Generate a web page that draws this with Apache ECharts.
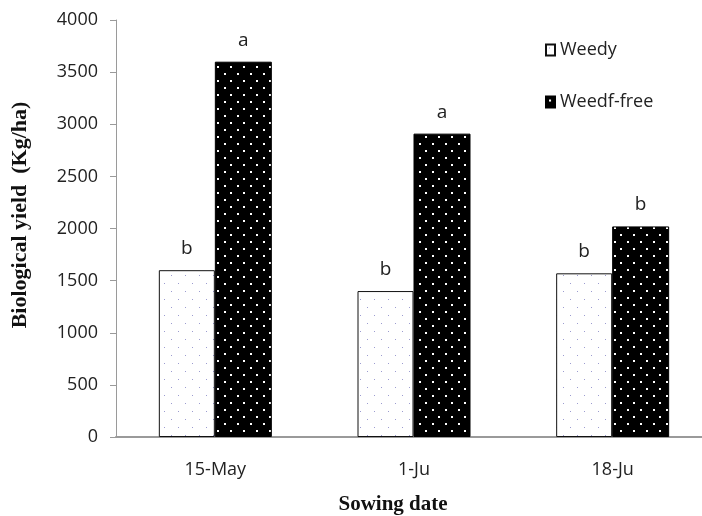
<!DOCTYPE html>
<html>
<head>
<meta charset="utf-8">
<script src="https://cdn.jsdelivr.net/npm/echarts@6/dist/echarts.min.js"></script>
<style>
  html, body { margin: 0; padding: 0; background: #fff; overflow: hidden; }
  /* the plot area runs a few pixels past the right edge of the window */
  #chart { width: 712px; height: 516px; }
</style>
</head>
<body>
<div id="chart"></div>
<script>
// Sowing dates on the category axis
const sowingDates = ['15-May', '1-Ju', '18-Ju'];
// Biological yield (Kg/ha)
const weedy = [1600, 1400, 1570];
const weedFree = [3600, 2910, 2020];
// Mean-separation letters printed above each bar
const weedyLetters = ['b', 'b', 'b'];
const weedFreeLetters = ['a', 'a', 'b'];
// Value axis ticks
const yTicks = [0, 500, 1000, 1500, 2000, 2500, 3000, 3500, 4000];

// Dotted fill patterns for the two treatments
function dotPattern(w, h, bg, dot, dots, size) {
  const c = document.createElement('canvas');
  c.width = w; c.height = h;
  const ctx = c.getContext('2d');
  ctx.fillStyle = bg;
  ctx.fillRect(0, 0, w, h);
  ctx.fillStyle = dot;
  dots.forEach(p => ctx.fillRect(p[0], p[1], size, size));
  return c;
}
const lightDots = dotPattern(14, 16, '#ffffff', '#9c9cd0', [[3, 3], [10, 11]], 1);
const darkDots = dotPattern(13, 14, '#000000', '#ffffff', [[3, 3], [9, 10]], 2);

const chart = echarts.init(document.getElementById('chart'), null, { renderer: 'canvas' });

const labelFont = { fontFamily: 'Open Sans', fontSize: 19, color: '#222' };

chart.setOption({
  animation: false,
  grid: { left: 116, right: 0, top: 20, bottom: 79, containLabel: false },
  legend: {
    orient: 'vertical',
    left: 540,
    top: 36,
    icon: 'rect',
    itemWidth: 9,
    itemHeight: 11,
    itemGap: 34,
    textStyle: { fontFamily: 'Open Sans', fontSize: 18, color: '#222' },
    data: ['Weedy', 'Weedf-free']
  },
  xAxis: {
    type: 'category',
    data: sowingDates,
    axisLine: { lineStyle: { color: '#9a9a9a', width: 2 } },
    axisTick: { show: false },
    axisLabel: { margin: 24, fontFamily: 'Open Sans', fontSize: 18, color: '#222' }
  },
  yAxis: {
    type: 'value',
    min: yTicks[0],
    max: yTicks[yTicks.length - 1],
    interval: yTicks[1] - yTicks[0],
    axisLine: { show: true, lineStyle: { color: '#9a9a9a', width: 1 } },
    axisTick: { show: true, inside: false, length: 6, lineStyle: { color: '#9a9a9a' } },
    splitLine: { show: false },
    axisLabel: {
      margin: 18, fontFamily: 'Open Sans', fontSize: 18, color: '#222',
      formatter: v => String(v)
    }
  },
  graphic: [
    {
      type: 'text',
      x: 20, y: 215,
      rotation: Math.PI / 2,
      style: {
        text: 'Biological yield  (Kg/ha)',
        fontFamily: 'Liberation Serif', fontWeight: 'bold', fontSize: 22,
        fill: '#111', align: 'center', verticalAlign: 'middle'
      }
    },
    {
      type: 'text',
      x: 393, y: 505,
      style: {
        text: 'Sowing date',
        fontFamily: 'Liberation Serif', fontWeight: 'bold', fontSize: 21,
        fill: '#111', align: 'center', verticalAlign: 'middle'
      }
    }
  ],
  series: [
    {
      name: 'Weedy',
      type: 'bar',
      data: weedy,
      barWidth: 56,
      barGap: '0%',
      itemStyle: { color: { image: lightDots, repeat: 'repeat' }, borderColor: '#111', borderWidth: 1 },
      label: {
        show: true, position: 'top', distance: 12, ...labelFont,
        formatter: p => weedyLetters[p.dataIndex]
      }
    },
    {
      name: 'Weedf-free',
      type: 'bar',
      data: weedFree,
      barWidth: 57,
      itemStyle: { color: { image: darkDots, repeat: 'repeat' }, borderColor: '#000', borderWidth: 1 },
      label: {
        show: true, position: 'top', distance: 12, ...labelFont,
        formatter: p => weedFreeLetters[p.dataIndex]
      }
    }
  ]
});
</script>
</body>
</html>
